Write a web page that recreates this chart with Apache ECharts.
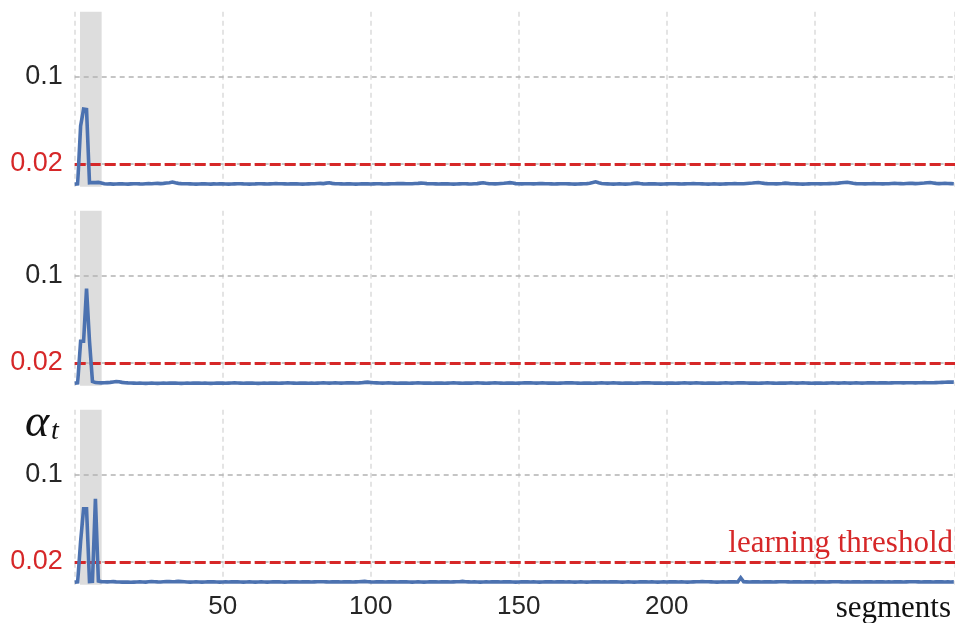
<!DOCTYPE html>
<html><head><meta charset="utf-8">
<script src="https://cdn.jsdelivr.net/npm/echarts@6/dist/echarts.min.js"></script>
<style>html,body{margin:0;padding:0;background:#fff}#c{width:955px;height:623px}</style>
</head><body><div id="c"></div>
<script>
// ---- data ----
const xMax = 297.4;
const xTicks = [50, 100, 150, 200];
const yTicks = [0.02, 0.1];
const threshold = 0.02;
const band = [1.8, 9.1];
const xLabel = 'segments';
const yLabel = 'α';
const yLabelSub = 't';
const thresholdLabel = 'learning threshold';
// alpha_t per segment, in units of 1e-4
const panel1 = [
15,17,550,705,700,28,30,29,31,26,
18,16,17,15,16,18,17,16,15,17,
18,19,17,16,18,20,19,21,22,20,
22,25,28,34,27,22,20,19,18,17,
16,15,16,17,18,16,15,17,16,18,
17,16,15,16,17,18,19,17,16,15,
16,17,19,18,17,16,17,18,20,19,
18,17,16,17,18,17,16,15,16,17,
18,19,21,22,20,24,27,22,19,18,
17,16,17,18,16,15,16,17,18,17,
16,17,18,19,17,16,17,18,19,20,
21,20,19,18,19,21,22,24,23,20,
19,18,17,16,17,18,17,16,15,16,
17,18,19,17,16,18,20,24,28,23,
19,18,17,19,21,23,26,29,25,20,
18,17,18,19,18,17,19,20,21,19,
18,17,16,17,18,19,18,17,16,15,
16,17,18,20,23,29,36,27,21,18,
17,16,15,16,17,16,15,16,18,22,
24,20,17,16,17,18,17,16,15,16,
17,18,19,18,17,16,17,18,19,20,
19,18,17,16,15,16,17,16,15,16,
17,18,19,20,19,18,19,21,23,25,
28,30,26,22,20,19,18,17,19,21,
24,22,19,18,17,16,15,16,17,18,
19,18,17,18,19,20,21,22,24,27,
30,32,28,23,20,19,18,17,18,19,
20,19,18,17,18,19,21,22,21,20,
19,21,23,22,20,21,23,25,28,30,
26,22,20,21,22,21,20,19];
const panel2 = [
15,18,400,400,885,400,30,20,18,17,
18,20,22,26,30,28,22,19,17,16,
15,14,15,14,13,14,15,14,13,14,
15,14,15,16,15,14,13,14,15,14,
15,16,15,14,15,14,13,14,15,16,
15,14,15,16,17,16,15,14,15,16,
15,14,13,14,15,14,15,16,15,14,
15,16,17,16,15,14,15,16,15,14,
15,14,15,16,17,16,15,16,17,16,
15,16,17,18,17,16,17,19,22,24,
21,18,17,16,15,16,17,16,15,14,
15,16,15,14,15,16,17,16,15,16,
15,14,15,16,15,14,15,16,17,16,
15,14,15,16,15,16,17,16,15,14,
15,16,17,16,15,14,15,16,15,14,
15,16,17,18,17,16,15,16,17,16,
15,16,15,14,15,16,17,18,17,16,
15,14,15,16,15,14,15,16,17,16,
15,16,17,16,15,14,15,16,15,14,
15,16,17,18,17,16,15,16,15,14,
15,16,15,14,15,16,17,16,15,16,
17,16,15,14,15,16,15,14,15,16,
17,16,15,16,17,18,17,16,15,16,
15,14,15,16,17,16,15,14,15,16,
15,16,17,16,15,16,17,16,15,14,
15,16,15,14,15,16,17,16,15,16,
17,16,15,16,17,16,15,16,17,18,
17,16,17,18,17,16,17,18,19,18,
17,18,19,18,17,18,19,20,19,18,
19,20,21,22,23,24,25,24];
const panel3 = [
15,18,390,690,690,20,22,780,25,20,
18,17,18,20,17,16,15,16,15,14,
15,16,17,16,15,18,20,19,17,16,
18,20,21,19,20,22,20,18,16,15,
16,17,16,15,16,17,18,17,16,15,
16,17,16,17,18,17,16,15,16,17,
16,15,16,17,16,15,16,17,18,17,
16,15,16,17,18,17,16,17,18,17,
16,17,18,19,18,17,16,17,18,17,
16,17,18,17,16,17,18,20,22,19,
17,16,17,18,17,16,17,18,17,16,
17,18,17,16,15,16,17,16,15,16,
17,18,17,16,17,18,17,16,17,18,
19,22,18,17,16,17,16,15,16,17,
16,17,18,17,16,17,18,17,16,15,
16,17,18,17,16,17,16,15,16,17,
18,17,16,17,18,17,16,17,16,15,
16,17,16,15,16,17,18,17,16,17,
16,17,18,17,16,15,16,17,16,15,
16,17,18,17,16,17,16,15,16,17,
16,17,18,17,16,17,16,15,16,17,
18,19,20,19,18,17,16,15,16,17,
16,17,18,17,16,55,18,17,16,17,
18,17,16,17,18,17,16,17,18,19,
18,17,16,17,18,17,16,17,18,17,
16,17,18,17,16,17,18,19,18,17,
16,17,16,17,18,17,16,17,18,17,
16,17,18,17,16,17,16,17,18,17,
16,17,18,19,18,17,16,17,18,17,
16,17,18,17,16,17,16,17];
const panels = [panel1, panel2, panel3];

// ---- style ----
const RED = '#d62728', BLUE = '#4c72b0', DARK = '#262626';
const tops = [11.75, 210.75, 409.75];
const gridH = 175.1, gridL = 74.7, gridW = 880.3;

const chart = echarts.init(document.getElementById('c'), null, {renderer: 'canvas'});
const grid = [], xAxis = [], yAxis = [], series = [];
panels.forEach((vals, i) => {
  grid.push({left: gridL, top: tops[i], width: gridW, height: gridH});
  xAxis.push({
    type: 'value', gridIndex: i, min: 0, max: xMax, interval: 50,
    axisLine: {show: false}, axisTick: {show: false},
    splitLine: {show: true, lineStyle: {color: '#dcdcdc', width: 1.5, type: [5, 4]}},
    axisLabel: {show: i === 2, showMaxLabel: false, showMinLabel: false,
      formatter: v => xTicks.includes(v) ? String(v) : '',
      fontSize: 26, fontFamily: 'Liberation Sans', color: DARK, margin: 9}
  });
  yAxis.push({
    type: 'value', gridIndex: i, min: -0.001, max: 0.16,
    axisLine: {show: false}, axisTick: {show: false}, splitLine: {show: false},
    axisLabel: {customValues: yTicks, formatter: v => String(v),
      color: v => Math.abs(Number(v) - threshold) < 1e-9 ? RED : DARK,
      fontSize: 27, fontFamily: 'Liberation Sans', margin: 12}
  });
  const data = vals.map((v, k) => [k, v / 10000]);
  series.push({
    type: 'line', xAxisIndex: i, yAxisIndex: i, data: data, z: 1,
    showSymbol: false, silent: true, lineStyle: {opacity: 0}, itemStyle: {opacity: 0},
    markArea: {silent: true, itemStyle: {color: '#dddddd', opacity: 1},
      data: [[{xAxis: band[0]}, {xAxis: band[1]}]]},
    markLine: {silent: true, symbol: 'none', label: {show: false},
      data: [
        {yAxis: yTicks[1], lineStyle: {color: '#b3b3b3', width: 1.5, type: [5, 4]}},
        {yAxis: yTicks[0], lineStyle: {color: '#b3b3b3', width: 1.5, type: [5, 4]}},
        {yAxis: threshold, lineStyle: {color: RED, width: 3, type: [11, 4]}}
      ]}
  });
  series.push({
    type: 'line', xAxisIndex: i, yAxisIndex: i, data: data, z: 5,
    showSymbol: false, silent: true, animation: false,
    lineStyle: {color: BLUE, width: 3.6, join: 'miter'}
  });
});

chart.setOption({
  animation: false,
  grid, xAxis, yAxis, series,
  graphic: [
    {type: 'text', right: 4, top: 593, style: {text: xLabel, font: '31px "Liberation Serif"', fill: '#111'}},
    {type: 'text', right: 2, top: 528, style: {text: thresholdLabel, font: '31px "Liberation Serif"', fill: RED}},
    {type: 'text', left: 25, top: 401, style: {text: yLabel, font: 'italic 46px "Liberation Serif"', fill: '#111'}},
    {type: 'text', left: 51, top: 418, style: {text: yLabelSub, font: 'italic 28px "Liberation Serif"', fill: '#111'}}
  ]
});
</script></body></html>
